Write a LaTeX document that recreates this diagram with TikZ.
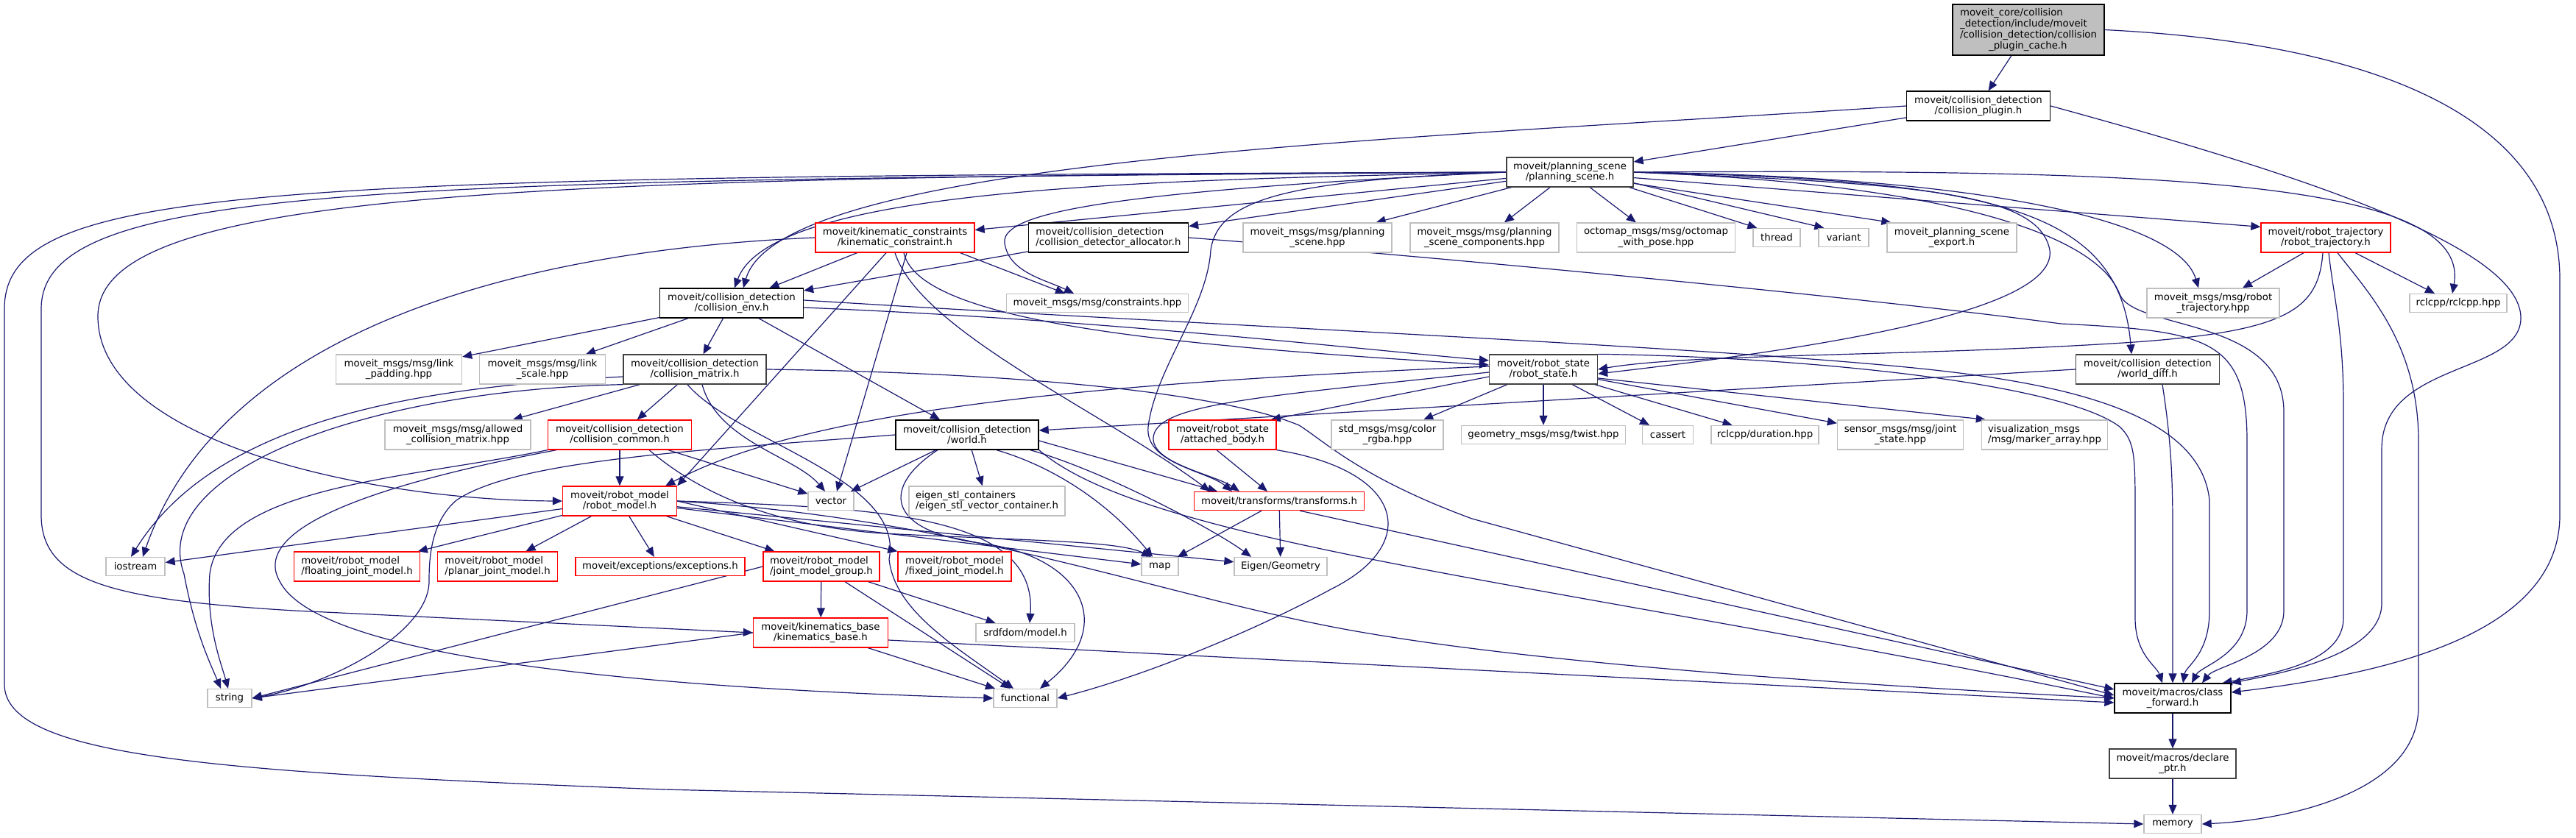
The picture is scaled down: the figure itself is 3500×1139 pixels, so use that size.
\documentclass[tikz,border=0pt]{standalone}
\usepackage{fontspec}
\setmainfont{DejaVu Sans}
\usetikzlibrary{arrows.meta}
\pgfdeclarelayer{background}
\pgfsetlayers{background,main}
\definecolor{edgeblue}{HTML}{191970}
\definecolor{grey75}{HTML}{BFBFBF}
\definecolor{grey25}{HTML}{404040}
\newcommand{\dotfont}{\fontsize{6.65pt}{7.35pt}\selectfont}

\begin{document}
\begin{tikzpicture}[x=0.5pt,y=-0.5pt,
  file/.style={draw=black,fill=white,line width=0.65pt,font=\dotfont,align=center,inner sep=1pt,minimum height=20pt},
  ext/.style={file,draw=grey75},
  cut/.style={file,draw=red},
  dark/.style={file,draw=grey25},
  oneline/.style={minimum height=12.5pt},
  inc/.style={draw=edgeblue,line width=0.6pt,-{Triangle[length=6.5pt,width=5.5pt]}}]
\useasboundingbox (0,0) rectangle (3500,1139);
\node[file,fill=grey75,minimum width=103pt,minimum height=34.5pt,align=left] (root) at (2756,40.5) {moveit\_core/collision\\\_detection/include/moveit\\/collision\_detection/collision\\\hspace*{19.5pt}\_plugin\_cache.h};
\node[file,minimum width=97.5pt] (plugin) at (2688,144) {moveit/collision\_detection\\/collision\_plugin.h};
\node[dark,minimum width=86pt] (pscene) at (2133,234) {moveit/planning\_scene\\/planning\_scene.h};
\node[cut,minimum width=108pt] (kin) at (1216,323) {moveit/kinematic\_constraints\\/kinematic\_constraint.h};
\node[file,minimum width=108.5pt,align=left] (alloc) at (1506,323) {moveit/collision\_detection\\/collision\_detector\_allocator.h};
\node[ext,minimum width=101pt] (pshpp) at (1790,323) {moveit\_msgs/msg/planning\\\_scene.hpp};
\node[ext,minimum width=101pt] (pschpp) at (2017,323) {moveit\_msgs/msg/planning\\\_scene\_components.hpp};
\node[ext,minimum width=107.5pt] (octo) at (2250,323) {octomap\_msgs/msg/octomap\\\_with\_pose.hpp};
\node[ext,oneline,minimum width=32pt] (thread) at (2414,323) {thread};
\node[ext,oneline,minimum width=34pt] (variant) at (2505,323) {variant};
\node[ext,minimum width=88pt] (pexport) at (2652,323) {moveit\_planning\_scene\\\_export.h};
\node[cut,minimum width=88pt] (rtraj) at (3160,323) {moveit/robot\_trajectory\\/robot\_trajectory.h};
\node[file,minimum width=97.5pt] (cenv) at (994,412) {moveit/collision\_detection\\/collision\_env.h};
\node[ext,oneline,minimum width=123.5pt] (constr) at (1491,412) {moveit\_msgs/msg/constraints.hpp};
\node[ext,minimum width=90pt] (rtrajhpp) at (3007,412) {moveit\_msgs/msg/robot\\\_trajectory.hpp};
\node[ext,oneline,minimum width=66pt] (rclcpp) at (3340,412) {rclcpp/rclcpp.hpp};
\node[ext,minimum width=85.5pt] (linkpad) at (542,502) {moveit\_msgs/msg/link\\\_padding.hpp};
\node[ext,minimum width=85.5pt] (linkscale) at (737,502) {moveit\_msgs/msg/link\\\_scale.hpp};
\node[dark,minimum width=97pt] (cmatrix) at (944,502) {moveit/collision\_detection\\/collision\_matrix.h};
\node[dark,minimum width=73.5pt] (rstate) at (2097,502) {moveit/robot\_state\\/robot\_state.h};
\node[dark,minimum width=97.5pt] (wdiff) at (2918,502) {moveit/collision\_detection\\/world\_diff.h};
\node[ext,minimum width=99pt] (acm) at (622,591) {moveit\_msgs/msg/allowed\\\_collision\_matrix.hpp};
\node[cut,minimum width=97.5pt] (ccommon) at (842,591) {moveit/collision\_detection\\/collision\_common.h};
\node[file,minimum width=97pt] (world) at (1314,591) {moveit/collision\_detection\\/world.h};
\node[cut,minimum width=73pt] (attbody) at (1661,591) {moveit/robot\_state\\/attached\_body.h};
\node[ext,minimum width=76pt] (color) at (1885,591) {std\_msgs/msg/color\\\_rgba.hpp};
\node[ext,oneline,minimum width=111.5pt] (twist) at (2097,591) {geometry\_msgs/msg/twist.hpp};
\node[ext,oneline,minimum width=34.5pt] (cassert) at (2266,591) {cassert};
\node[ext,oneline,minimum width=73pt] (duration) at (2398,591) {rclcpp/duration.hpp};
\node[ext,minimum width=85.5pt] (jstate) at (2582,591) {sensor\_msgs/msg/joint\\\_state.hpp};
\node[ext,minimum width=85.5pt,align=left] (marker) at (2778,591) {visualization\_msgs\\/msg/marker\_array.hpp};
\node[cut,minimum width=77.5pt] (rmodel) at (842,681) {moveit/robot\_model\\/robot\_model.h};
\node[ext,oneline,minimum width=31pt] (vector) at (1129,681) {vector};
\node[ext,minimum width=106pt,align=left] (eigenstl) at (1341,681) {eigen\_stl\_containers\\/eigen\_stl\_vector\_container.h};
\node[cut,oneline,minimum width=115.5pt] (transforms) at (1738,681) {moveit/transforms/transforms.h};
\node[ext,oneline,minimum width=40pt] (iostream) at (184,770) {iostream};
\node[cut,minimum width=85.5pt,align=left] (floating) at (485,770) {moveit/robot\_model\\/floating\_joint\_model.h};
\node[cut,minimum width=81.5pt,align=left] (planar) at (676,770) {moveit/robot\_model\\/planar\_joint\_model.h};
\node[cut,oneline,minimum width=115pt] (excep) at (897,770) {moveit/exceptions/exceptions.h};
\node[cut,minimum width=79pt,align=left] (jmg) at (1116,770) {moveit/robot\_model\\/joint\_model\_group.h};
\node[cut,minimum width=77pt,align=left] (fixed) at (1297,770) {moveit/robot\_model\\/fixed\_joint\_model.h};
\node[ext,oneline,minimum width=25pt] (map) at (1576,770) {map};
\node[ext,oneline,minimum width=63pt] (eigengeom) at (1740,770) {Eigen/Geometry};
\node[cut,minimum width=91.5pt] (kbase) at (1115,860) {moveit/kinematics\_base\\/kinematics\_base.h};
\node[ext,oneline,minimum width=67pt] (srdf) at (1393,860) {srdfdom/model.h};
\node[ext,oneline,minimum width=30pt] (string) at (312,949) {string};
\node[ext,oneline,minimum width=43pt] (functional) at (1393,949) {functional};
\node[file,minimum width=79pt] (cfwd) at (2952,949) {moveit/macros/class\\\_forward.h};
\node[dark,minimum width=86pt] (dptr) at (2952,1038) {moveit/macros/declare\\\_ptr.h};
\node[ext,oneline,minimum width=39pt] (memory) at (2952,1120) {memory};
\begin{pgfonlayer}{background}
\fill[white] (0,0) rectangle (3500,1139);
\foreach \s/\t in {root/plugin,plugin/pscene,pscene/kin,pscene/alloc,pscene/pshpp,pscene/pschpp,pscene/octo,kin/cenv,alloc/cenv,cenv/linkpad,cenv/linkscale,cenv/cmatrix,cenv/world,cmatrix/acm,cmatrix/ccommon,ccommon/rmodel,ccommon/vector,world/vector,world/eigenstl,rstate/color,rstate/twist,rstate/cassert,rstate/duration,rstate/jstate,rmodel/iostream,rmodel/floating,rmodel/planar,rmodel/excep,rmodel/jmg,rmodel/map,rmodel/eigengeom,jmg/kbase,jmg/srdf,jmg/functional,kbase/functional,transforms/map,transforms/eigengeom,cfwd/dptr,dptr/memory}
  \draw[inc] (\s) -- (\t);
\draw[inc] (root.east) .. controls (3250,60) and (3478,170) .. (3478,380) -- (3478,700) .. controls (3478,860) and (3250,915) .. ([yshift=4pt]cfwd.east);
\draw[inc] (plugin.west) .. controls (1900,190) and (1060,215) .. ([xshift=8pt]cenv.north);
\draw[inc] (plugin.east) .. controls (3100,230) and (3420,330) .. (3425,430) .. controls (3428,510) and (3236,490) .. (3236,610) -- (3236,820) .. controls (3236,890) and (3100,915) .. (cfwd.north east);
\draw[inc] ([xshift=-3pt]pscene.south east) -- ([xshift=3pt]thread.north west);
\draw[inc] ([yshift=3pt]pscene.south east) -- ([xshift=4pt]variant.north west);
\draw[inc] (pscene.-10) -- ([xshift=3pt]pexport.north west);
\draw[inc] (pscene.-5) -- ([yshift=-3pt]rtraj.north west);
\draw[inc] (pscene.east) .. controls (2700,240) and (2960,300) .. ([xshift=-10pt]rtrajhpp.north);
\draw[inc] (pscene.east) .. controls (2900,230) and (3360,240) .. ([xshift=-4pt]rclcpp.north);
\draw[inc] (pscene.east) .. controls (2600,250) and (2770,260) .. (2785,340) .. controls (2795,420) and (2500,470) .. ([yshift=-3pt]rstate.east);
\draw[inc] (pscene.east) .. controls (2700,245) and (2880,280) .. ([xshift=-11pt]wdiff.north);
\draw[inc] (pscene.east) .. controls (2650,250) and (2850,320) .. (2880,400) .. controls (2900,450) and (3103,430) .. (3103,560) -- (3103,830) .. controls (3103,890) and (3010,905) .. ([xshift=20pt]cfwd.north);
\draw[inc] (pscene.west) .. controls (1600,245) and (1050,250) .. ([xshift=2pt]cenv.north);
\draw[inc] (pscene.west) .. controls (1500,260) and (1360,290) .. (1365,330) .. controls (1370,370) and (1420,380) .. ([xshift=-16pt]constr.north);
\draw[inc] (pscene.west) .. controls (1750,245) and (1655,270) .. (1645,340) .. controls (1640,420) and (1570,500) .. (1560,580) .. controls (1555,630) and (1640,640) .. ([xshift=-32pt]transforms.north);
\draw[inc] (pscene.west) .. controls (700,240) and (133,260) .. (133,430) .. controls (133,600) and (500,680) .. (rmodel.west);
\draw[inc] (pscene.west) .. controls (500,245) and (56,250) .. (56,420) -- (56,700) .. controls (56,790) and (150,815) .. (400,830) -- (kbase.west);
\draw[inc] (pscene.west) .. controls (350,240) and (6,250) .. (6,420) -- (6,930) .. controls (6,1030) and (300,1050) .. (900,1073) -- (memory.west);
\draw[inc] (kin.west) .. controls (700,340) and (300,450) .. ([xshift=5pt]iostream.north);
\draw[inc] ([xshift=-10pt]kin.south east) -- ([xshift=-22pt]constr.north);
\draw[inc] ([xshift=-6pt]kin.south) -- (rmodel.north east);
\draw[inc] ([xshift=8pt]kin.south) -- ([xshift=4pt]vector.north);
\draw[inc] (kin.south) .. controls (1250,450) and (1500,560) .. ([xshift=-47pt]transforms.north);
\draw[inc] ([xshift=6pt]kin.south) .. controls (1250,440) and (1600,470) .. ([yshift=3pt]rstate.west);
\draw[inc] (alloc.east) .. controls (1900,345) and (2500,400) .. (2800,440) .. controls (3000,450) and (3053,460) .. (3053,600) -- (3053,830) .. controls (3053,890) and (2990,905) .. ([xshift=13pt]cfwd.north);
\draw[inc] ([yshift=2pt]cenv.east) .. controls (1600,440) and (2300,470) .. (2600,500) .. controls (2800,520) and (2990,560) .. (3002,680) -- (3002,830) .. controls (3002,890) and (2970,905) .. ([xshift=7pt]cfwd.north);
\draw[inc] ([yshift=-3pt]cenv.east) .. controls (1500,435) and (1800,470) .. ([yshift=6pt]rstate.west);
\draw[inc] (rstate.north east) .. controls (2450,485) and (2800,520) .. (2880,580) .. controls (2901,600) and (2901,620) .. (2901,700) -- (2901,840) .. controls (2901,890) and (2930,905) .. ([xshift=-7pt]cfwd.north);
\draw[inc] ([xshift=10pt]wdiff.south) .. controls (2950,600) and (2952,650) .. (2952,720) -- (cfwd.north);
\draw[inc] (wdiff.west) -- ([yshift=3pt]world.east);
\draw[inc] ([xshift=2pt]rtraj.south) .. controls (3170,400) and (3184,450) .. (3184,550) -- (3184,840) .. controls (3184,900) and (3090,915) .. ([xshift=-6pt]cfwd.north east);
\draw[inc] ([xshift=8pt]rtraj.south) .. controls (3220,400) and (3286,470) .. (3286,600) -- (3286,960) .. controls (3286,1080) and (3100,1115) .. (memory.east);
\draw[inc] ([xshift=-2pt]rtraj.south) .. controls (3150,420) and (3110,450) .. (2900,465) .. controls (2600,485) and (2300,480) .. (rstate.east);
\draw[inc] ([xshift=-15pt]rtraj.south) -- ([xshift=20pt]rtrajhpp.north);
\draw[inc] ([xshift=20pt]rtraj.south) -- ([xshift=-16pt]rclcpp.north);
\draw[inc] ([yshift=-5pt]rstate.west) -- ([xshift=-4pt]attbody.north east);
\draw[inc] ([yshift=-6pt]rstate.east) -- ([xshift=3pt]marker.north west);
\draw[inc] ([yshift=2pt]rstate.west) .. controls (1500,520) and (1100,555) .. ([xshift=-8pt]rmodel.north east);
\draw[inc] ([yshift=-2pt]rstate.west) .. controls (1700,540) and (1570,550) .. (1567,595) .. controls (1565,630) and (1650,645) .. ([xshift=-27pt]transforms.north);
\draw[inc] ([xshift=-4pt]attbody.south) -- ([xshift=-8pt]transforms.north);
\draw[inc] (attbody.south east) .. controls (1910,640) and (1930,740) .. (1810,800) .. controls (1700,860) and (1550,920) .. (functional.east);
\draw[inc] ([yshift=-4pt]world.east) -- ([xshift=-42pt]transforms.north);
\draw[inc] ([xshift=20pt]world.south) .. controls (1450,640) and (1520,700) .. ([xshift=-5pt]map.north);
\draw[inc] ([xshift=-6pt]world.south east) .. controls (1500,640) and (1650,720) .. ([xshift=-20pt]eigengeom.north);
\draw[inc] (world.south east) .. controls (1560,740) and (2100,790) .. (cfwd.west);
\draw[inc] ([xshift=-20pt]world.south) .. controls (1200,660) and (1200,720) .. (1330,738) .. controls (1470,755) and (1520,850) .. ([xshift=10pt]functional.north);
\draw[inc] (world.west) .. controls (950,612) and (700,625) .. (620,680) .. controls (585,710) and (583,760) .. (583,790) .. controls (583,860) and (450,930) .. (string.east);
\draw[inc] ([xshift=14pt]transforms.south) -- ([yshift=6pt]cfwd.west);
\draw[inc] (cmatrix.east) .. controls (1350,506) and (1650,530) .. (1765,578) .. controls (1800,600) and (1850,650) .. (2000,705) -- ([yshift=2pt]cfwd.west);
\draw[inc] ([xshift=-5pt]cmatrix.south) .. controls (1000,600) and (1230,650) .. (1208,760) .. controls (1215,830) and (1300,880) .. ([xshift=-8pt]functional.north);
\draw[inc] ([yshift=-5pt]kbase.east) -- ([yshift=-3pt]cfwd.west);
\draw[inc] (rmodel.east) .. controls (1300,705) and (1550,800) .. (1800,850) .. controls (2050,900) and (2500,930) .. (cfwd.west);
\draw[inc] (rmodel.east) .. controls (1200,690) and (1410,700) .. ([xshift=3pt]srdf.north);
\draw[inc] (rmodel.east) -- (fixed.north west);
\draw[inc] ([yshift=-5pt]cmatrix.west) .. controls (600,525) and (300,560) .. ([xshift=-3pt]iostream.north);
\draw[inc] (cmatrix.south west) .. controls (500,530) and (200,640) .. (250,780) .. controls (265,860) and (285,900) .. ([xshift=-6pt]string.north);
\draw[inc] ([xshift=5pt]cmatrix.south) .. controls (975,600) and (1080,620) .. ([xshift=-4pt]vector.north);
\draw[inc] (ccommon.south west) .. controls (560,650) and (300,660) .. (285,780) .. controls (280,850) and (300,900) .. ([xshift=-1pt]string.north);
\draw[inc] ([xshift=6pt]ccommon.south west) .. controls (500,660) and (340,720) .. (380,790) .. controls (420,870) and (700,930) .. (functional.west);
\draw[inc] ([xshift=20pt]ccommon.south) .. controls (950,670) and (1050,715) .. (1200,725) .. controls (1400,735) and (1520,735) .. ([xshift=-6pt]map.north);
\draw[inc] (jmg.west) -- (string.east);
\draw[inc] (kbase.west) -- (string.east);
\end{pgfonlayer}
\end{tikzpicture}
\end{document}
